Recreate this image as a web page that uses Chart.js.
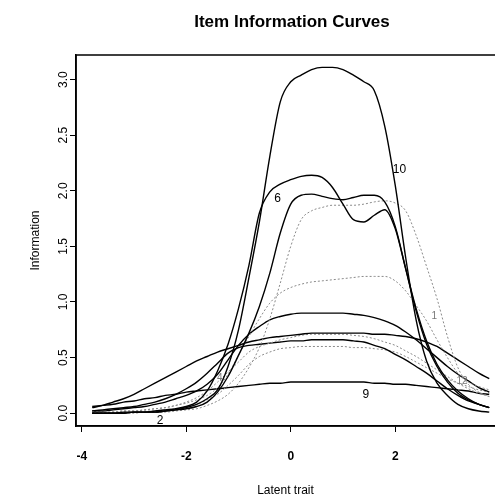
<!DOCTYPE html>
<html><head><meta charset="utf-8">
<script src="https://cdn.jsdelivr.net/npm/chart.js@4.4.1/dist/chart.umd.min.js"></script>
<style>html,body{margin:0;padding:0;background:#fff}#wrap{width:495px;height:498px}</style>
</head><body><div id="wrap"><canvas id="c" width="495" height="498"></canvas></div>
<script>
// Latent trait grid (theta)
const theta = [-3.8,-3.6,-3.4,-3.2,-3.0,-2.8,-2.6,-2.4,-2.2,-2.0,
               -1.8,-1.6,-1.4,-1.2,-1.0,-0.8,-0.6,-0.4,-0.2,0,
               0.2,0.4,0.6,0.8,1.0,1.2,1.4,1.6,1.8,2.0,
               2.2,2.4,2.6,2.8,3.0,3.2,3.4,3.6,3.8];

// Item information values
const item10 = [0.00,0.00,0.00,0.00,0.01,0.01,0.01,0.02,0.03,0.05,
                0.08,0.13,0.21,0.42,0.75,1.22,1.72,2.31,2.80,2.98,
                3.04,3.09,3.11,3.11,3.09,3.04,2.98,2.90,2.58,2.05,
                1.40,0.84,0.47,0.27,0.16,0.08,0.04,0.02,0.01];
const item6  = [0.00,0.00,0.00,0.01,0.01,0.01,0.02,0.03,0.04,0.06,
                0.10,0.20,0.38,0.62,0.94,1.33,1.80,1.99,2.06,2.10,
                2.13,2.14,2.12,2.03,1.88,1.74,1.72,1.78,1.83,1.66,
                1.30,0.94,0.65,0.44,0.30,0.20,0.13,0.08,0.05];
const item8  = [0.00,0.00,0.00,0.00,0.01,0.01,0.01,0.02,0.03,0.04,
                0.06,0.10,0.19,0.33,0.52,0.72,0.96,1.26,1.62,1.88,
                1.96,1.97,1.95,1.93,1.92,1.94,1.96,1.96,1.90,1.68,
                1.30,0.92,0.62,0.42,0.28,0.18,0.12,0.08,0.05];
const item11 = [0.00,0.00,0.00,0.00,0.00,0.01,0.01,0.01,0.02,0.03,
                0.04,0.07,0.11,0.17,0.27,0.41,0.59,0.85,1.17,1.50,
                1.74,1.82,1.85,1.87,1.87,1.87,1.88,1.90,1.91,1.89,
                1.82,1.60,1.32,1.03,0.69,0.41,0.26,0.19,0.15];
const item1  = [0.01,0.01,0.01,0.02,0.02,0.03,0.04,0.05,0.07,0.09,
                0.12,0.16,0.23,0.35,0.52,0.69,0.85,0.99,1.08,1.13,
                1.16,1.18,1.19,1.20,1.21,1.22,1.23,1.23,1.23,1.19,
                1.10,0.97,0.83,0.66,0.50,0.36,0.28,0.24,0.21];
const item5  = [0.02,0.02,0.03,0.04,0.05,0.06,0.08,0.10,0.13,0.16,
                0.20,0.26,0.35,0.48,0.61,0.71,0.78,0.84,0.87,0.89,
                0.90,0.90,0.90,0.90,0.90,0.89,0.88,0.86,0.83,0.79,
                0.73,0.66,0.58,0.50,0.42,0.35,0.29,0.23,0.19];
const item3  = [0.05,0.07,0.10,0.13,0.17,0.22,0.27,0.32,0.37,0.42,
                0.47,0.51,0.55,0.58,0.61,0.64,0.66,0.68,0.69,0.70,
                0.71,0.72,0.72,0.72,0.72,0.72,0.72,0.71,0.71,0.70,
                0.69,0.67,0.64,0.60,0.54,0.48,0.42,0.36,0.31];
const item7  = [0.01,0.01,0.01,0.02,0.02,0.03,0.04,0.05,0.07,0.10,
                0.14,0.20,0.28,0.37,0.46,0.55,0.60,0.63,0.66,0.68,
                0.70,0.71,0.71,0.71,0.71,0.70,0.69,0.67,0.64,0.61,
                0.56,0.51,0.45,0.39,0.33,0.27,0.22,0.18,0.15];
const item4  = [0.02,0.03,0.04,0.05,0.06,0.08,0.10,0.13,0.17,0.22,
                0.28,0.36,0.45,0.54,0.59,0.61,0.62,0.63,0.64,0.65,
                0.65,0.66,0.66,0.66,0.66,0.65,0.64,0.61,0.58,0.53,
                0.48,0.42,0.36,0.29,0.22,0.16,0.11,0.08,0.05];
const item12 = [0.00,0.00,0.01,0.01,0.01,0.02,0.02,0.03,0.04,0.06,
                0.08,0.12,0.17,0.25,0.34,0.44,0.51,0.55,0.58,0.59,
                0.60,0.60,0.60,0.60,0.60,0.59,0.59,0.58,0.57,0.55,
                0.51,0.46,0.41,0.36,0.31,0.27,0.24,0.21,0.19];
const item9  = [0.06,0.07,0.08,0.10,0.11,0.13,0.14,0.16,0.17,0.19,
                0.20,0.21,0.22,0.23,0.24,0.25,0.26,0.27,0.27,0.28,
                0.28,0.28,0.28,0.28,0.28,0.28,0.28,0.27,0.27,0.26,
                0.26,0.25,0.24,0.23,0.22,0.21,0.20,0.18,0.17];

// Series: name, values, dotted?
const seriesNames  = ["Item 10","Item 6","Item 8","Item 11","Item 1","Item 5","Item 3","Item 7","Item 4","Item 12","Item 9"];
const seriesValues = [item10, item6, item8, item11, item1, item5, item3, item7, item4, item12, item9];
const seriesDotted = [false, false, false, true, true, false, false, true, false, true, false];

// Tick values
const xTicks = [-4, -2, 0, 2];
const yTicks = [0, 0.5, 1.0, 1.5, 2.0, 2.5, 3.0];

// Curve labels
const labelText = ["10","6","9","2","4","1","12"];
const labelX    = [2.08,-0.25,1.44,-2.5,-1.36,2.75,3.28];
const labelY    = [2.19,1.93,0.17,-0.07,0.31,0.87,0.29];
const labelGray = [false,false,false,false,true,true,true];

const FONT = "'Liberation Sans', Arial, Helvetica, sans-serif";

const datasets = seriesValues.map((vals, k) => ({
  label: seriesNames[k],
  data: theta.map((t, i) => ({x: t, y: vals[i]})),
  borderColor: seriesDotted[k] ? '#8a8a8a' : '#000',
  borderWidth: seriesDotted[k] ? 1 : 1.4,
  borderDash: seriesDotted[k] ? [2, 2] : [],
  pointRadius: 0,
  fill: false,
  cubicInterpolationMode: 'monotone'
}));

const framePlugin = {
  id: 'frame',
  afterLayout(chart) {
    const tb = chart.titleBlock;
    if (tb) { tb.left = 2 * 292 - tb.right; }
  },
  afterDatasetsDraw(chart) {
    const {ctx, chartArea: a, scales} = chart;
    ctx.save();
    ctx.strokeStyle = '#000';
    ctx.lineWidth = 1.6;
    ctx.beginPath();
    ctx.moveTo(a.right + 5, a.top);
    ctx.lineTo(a.left, a.top);
    ctx.lineTo(a.left, a.bottom);
    ctx.lineTo(a.right + 5, a.bottom);
    ctx.stroke();
    ctx.textAlign = 'center';
    ctx.textBaseline = 'middle';
    labelText.forEach((t, i) => {
      ctx.fillStyle = labelGray[i] ? '#777' : '#000';
      ctx.font = (labelGray[i] ? '10px ' : '12px ') + FONT;
      ctx.fillText(t, scales.x.getPixelForValue(labelX[i]), scales.y.getPixelForValue(labelY[i]));
    });
    ctx.restore();
  }
};

new Chart(document.getElementById('c'), {
  type: 'line',
  data: { datasets },
  options: {
    responsive: false,
    devicePixelRatio: 1,
    animation: false,
    layout: { padding: 0 },
    plugins: {
      legend: { display: false },
      tooltip: { enabled: false },
      title: {
        display: true,
        text: 'Item Information Curves',
        color: '#000',
        font: { family: FONT, size: 17, weight: 'bold' },
        padding: { top: 12, bottom: 22.6 }
      }
    },
    scales: {
      x: {
        type: 'linear', min: -4.11, max: 3.91,
        afterBuildTicks: s => { s.ticks = xTicks.map(v => ({value: v})); },
        afterFit: s => { s.height = 72; },
        ticks: { autoSkip: false, maxRotation: 0, padding: 17, color: '#000',
                 font: { family: FONT, size: 12, weight: 'bold' },
                 callback: v => String(v) },
        grid: { display: true, drawOnChartArea: false, drawTicks: true, tickLength: 6, tickColor: '#000', tickWidth: 1 },
        border: { display: true, color: '#000', width: 1.5 },
        title: { display: true, text: 'Latent trait', color: '#000',
                 font: { family: FONT, size: 12 }, padding: { top: 0, bottom: 0 } }
      },
      y: {
        type: 'linear', min: -0.115, max: 3.221,
        afterBuildTicks: s => { s.ticks = yTicks.map(v => ({value: v})); },
        afterFit: s => { s.width = 76; },
        ticks: { autoSkip: false, minRotation: 90, maxRotation: 90, crossAlign: 'center', padding: -2,
                 color: '#000', font: { family: FONT, size: 12 },
                 callback: v => Number(v).toFixed(1) },
        grid: { display: true, drawOnChartArea: false, drawTicks: true, tickLength: 6, tickColor: '#000', tickWidth: 1 },
        border: { display: true, color: '#000', width: 1.5 },
        title: { display: true, text: 'Information', color: '#000',
                 font: { family: FONT, size: 12 }, padding: { top: 28, bottom: 0 } }
      }
    }
  },
  plugins: [framePlugin]
});
</script></body></html>
